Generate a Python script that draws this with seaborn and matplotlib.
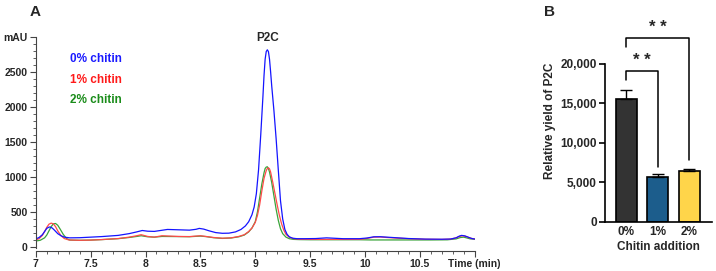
"""
HPLC chromatograms of P2C with chitin addition (A) and relative P2C yield (B)
"""

import numpy as np
import pandas as pd
import matplotlib
matplotlib.use('Agg')
import matplotlib.pyplot as plt
from matplotlib.ticker import MultipleLocator
import seaborn as sns

sns.set_theme(style='white')
plt.rcParams['font.family'] = ['Liberation Sans', 'DejaVu Sans']
plt.rcParams['font.weight'] = 'bold'

# Chromatogram traces (time in min, absorbance in mAU)
time_0 = [7.00, 7.03, 7.06, 7.08, 7.10, 7.12, 7.13, 7.15, 7.17, 7.20, 7.23, 7.26, 7.31,
          7.40, 7.50, 7.60, 7.75, 7.85, 7.92, 7.97, 8.02, 8.08, 8.20, 8.30, 8.40,
          8.46, 8.49, 8.53, 8.58, 8.64, 8.70, 8.76, 8.82, 8.87, 8.91, 8.94, 8.97,
          8.99, 9.01, 9.03, 9.05, 9.07, 9.08, 9.09, 9.10, 9.11, 9.12, 9.13, 9.14,
          9.15, 9.17, 9.19, 9.21, 9.23, 9.25, 9.27, 9.29, 9.31, 9.34, 9.38, 9.45,
          9.55, 9.65, 9.80, 9.95, 10.02, 10.08, 10.14, 10.20, 10.30, 10.40, 10.55,
          10.70, 10.78, 10.83, 10.86, 10.88, 10.91, 10.94, 10.97, 11.00]
mau_0 = [115, 135, 175, 220, 265, 283, 285, 270, 240, 190, 160, 140, 130,
         132, 140, 148, 165, 190, 215, 235, 225, 222, 250, 245, 240,
         252, 265, 255, 230, 205, 195, 197, 215, 250, 300, 360, 460,
         570, 760, 1100, 1600, 2150, 2450, 2680, 2790, 2815, 2790, 2680, 2500,
         2300, 1950, 1550, 1100, 660, 400, 250, 180, 145, 125, 118, 118,
         120, 130, 118, 118, 128, 145, 146, 140, 130, 120, 112,
         110, 113, 130, 155, 165, 158, 140, 122, 113]

time_1 = [7.00, 7.03, 7.06, 7.08, 7.10, 7.12, 7.14, 7.16, 7.18, 7.20, 7.23, 7.26, 7.30,
          7.40, 7.50, 7.60, 7.75, 7.85, 7.92, 7.96, 8.02, 8.08, 8.15, 8.30, 8.40,
          8.50, 8.55, 8.62, 8.70, 8.78, 8.85, 8.90, 8.94, 8.97, 9.00, 9.02, 9.04,
          9.06, 9.08, 9.10, 9.11, 9.12, 9.13, 9.14, 9.16, 9.18, 9.20, 9.22, 9.24,
          9.26, 9.28, 9.31, 9.35, 9.40, 9.50, 9.65, 9.80, 9.95, 10.02, 10.08, 10.14,
          10.20, 10.30, 10.40, 10.55, 10.70, 10.78, 10.83, 10.86, 10.89, 10.92,
          10.95, 10.98, 11.00]
mau_1 = [100, 118, 165, 220, 280, 325, 340, 330, 290, 230, 160, 120, 100,
         95, 98, 105, 120, 140, 160, 175, 150, 140, 160, 150, 148,
         160, 150, 135, 125, 130, 150, 175, 220, 270, 350, 450, 600,
         800, 980, 1090, 1120, 1130, 1115, 1070, 920, 760, 600, 450, 330,
         240, 180, 140, 118, 110, 108, 108, 108, 108, 122, 140, 142,
         135, 125, 118, 110, 108, 112, 130, 150, 160, 150,
         132, 118, 113]

time_2 = [7.00, 7.04, 7.08, 7.10, 7.12, 7.14, 7.16, 7.18, 7.20, 7.22, 7.25, 7.28, 7.31,
          7.40, 7.50, 7.60, 7.75, 7.85, 7.92, 7.96, 8.02, 8.08, 8.15, 8.30, 8.40,
          8.50, 8.55, 8.62, 8.70, 8.78, 8.85, 8.90, 8.94, 8.97, 9.00, 9.02, 9.04,
          9.06, 9.08, 9.09, 9.10, 9.11, 9.12, 9.13, 9.15, 9.17, 9.19, 9.21, 9.23,
          9.25, 9.28, 9.31, 9.35, 9.40, 9.50, 9.65, 9.80, 9.95, 10.05, 10.15,
          10.30, 10.45, 10.60, 10.75, 10.83, 10.87, 10.90, 10.93, 10.96, 11.00]
mau_2 = [85, 95, 130, 170, 230, 290, 330, 335, 310, 260, 180, 120, 98,
         95, 98, 105, 118, 135, 150, 160, 145, 140, 150, 148, 146,
         155, 148, 132, 122, 128, 145, 170, 215, 270, 360, 500, 700,
         900, 1060, 1120, 1140, 1145, 1120, 1070, 920, 730, 540, 380, 260,
         190, 140, 118, 108, 105, 103, 103, 103, 103, 100, 100,
         100, 100, 100, 102, 115, 135, 140, 128, 115, 110]

trace_names = ['0% chitin', '1% chitin', '2% chitin']
trace_colors = ['#1414ff', '#ff4a4a', '#3aa43a']
label_colors = ['#1a1aff', '#ff1a1a', '#1a8c1a']

# Bar chart values (relative P2C yield)
groups = ['0%', '1%', '2%']
yields = [15600, 5700, 6450]
yield_err = [1100, 400, 300]
bar_colors = ['#333333', '#1c5d8c', '#ffd54a']

chrom = pd.concat([
    pd.DataFrame({'time': time_0, 'mAU': mau_0, 'sample': trace_names[0]}),
    pd.DataFrame({'time': time_1, 'mAU': mau_1, 'sample': trace_names[1]}),
    pd.DataFrame({'time': time_2, 'mAU': mau_2, 'sample': trace_names[2]}),
], ignore_index=True)

fig = plt.figure(figsize=(7.16, 2.71), dpi=100)

# ---------- Panel A ----------
axA = fig.add_axes([0.050, 0.074, 0.613, 0.790])
sns.lineplot(data=chrom, x='time', y='mAU', hue='sample', hue_order=trace_names[::-1],
             palette=dict(zip(trace_names, trace_colors)), estimator=None, sort=False,
             linewidth=0.9, legend=False, ax=axA)
axA.set_xlim(7, 11)
axA.set_ylim(-57, 3000)
axA.set_xlabel('')
axA.set_ylabel('')
sns.despine(ax=axA)
for s in ['left', 'bottom']:
    axA.spines[s].set_color('#444444')
    axA.spines[s].set_linewidth(0.8)
axA.spines['left'].set_bounds(-10, 3000)

axA.set_xticks([7, 7.5, 8, 8.5, 9, 9.5, 10, 10.5, 11])
axA.set_xticklabels(['7', '7.5', '8', '8.5', '9', '9.5', '10', '10.5', 'Time (min)'])
axA.xaxis.set_minor_locator(MultipleLocator(0.1))
axA.set_yticks([0, 500, 1000, 1500, 2000, 2500, 3000])
axA.set_yticklabels(['0', '500', '1000', '1500', '2000', '2500', 'mAU'])
axA.yaxis.set_minor_locator(MultipleLocator(100))
axA.tick_params(which='major', length=4, width=0.8, color='#444444',
                labelsize=7.5, pad=2, bottom=True, left=True)
axA.tick_params(which='minor', length=2, width=0.6, color='#444444',
                bottom=True, left=True)
for lab in axA.get_xticklabels() + axA.get_yticklabels():
    lab.set_fontweight('bold')

for i, (name, col) in enumerate(zip(trace_names, label_colors)):
    axA.text(7.31, 2680 - i * 290, name, color=col, fontsize=8.5,
             fontweight='bold', va='center', ha='left')
peak_idx = int(np.argmax(mau_0))
axA.text(time_0[peak_idx], max(mau_0) + 80, 'P2C', fontsize=8.5,
         fontweight='bold', ha='center', va='bottom')

fig.text(0.049, 0.955, 'A', fontsize=11, fontweight='bold', ha='center', va='center')

# ---------- Panel B ----------
axB = fig.add_axes([0.845, 0.181, 0.149, 0.744])
bars = pd.DataFrame({'group': groups, 'yield': yields})
sns.barplot(data=bars, x='group', y='yield', hue='group', palette=bar_colors,
            saturation=1, width=0.67, edgecolor='black', linewidth=1.2,
            legend=False, ax=axB)
axB.errorbar(range(len(groups)), yields, yerr=[[0] * len(groups), yield_err],
             fmt='none', ecolor='black', elinewidth=1.0, capsize=4, capthick=1.0)
axB.set_xlim(-0.67, 2.71)
axB.set_ylim(0, 25500)
axB.set_yticks([0, 5000, 10000, 15000, 20000])
axB.set_yticklabels(['0', '5,000', '10,000', '15,000', '20,000'])
sns.despine(ax=axB)
axB.spines['left'].set_bounds(0, 20000)
for s in ['left', 'bottom']:
    axB.spines[s].set_color('black')
    axB.spines[s].set_linewidth(1.2)
axB.tick_params(axis='y', length=4, width=1.2, color='black', labelsize=8.5, pad=2, left=True)
axB.tick_params(axis='x', length=0, labelsize=8.5, pad=3)
for lab in axB.get_xticklabels() + axB.get_yticklabels():
    lab.set_fontweight('bold')
axB.set_xlabel('Chitin addition', fontsize=8.5, fontweight='bold', labelpad=2)
axB.set_ylabel('Relative yield of P2C', fontsize=8.5, fontweight='bold', labelpad=3)

# significance brackets (0% vs 1%, 0% vs 2%)
brackets = [(0, 1, 18000, 19150, 6900), (0, 2, 22100, 23300, 7800)]
for a, b, left_low, top, right_low in brackets:
    axB.plot([a, a, b, b], [left_low, top, top, right_low], color='black',
             linewidth=1.1, clip_on=False)
    axB.text((a + b) / 2, top + 300, '* *', fontsize=12, fontweight='bold',
             ha='center', va='bottom', clip_on=False)

fig.text(0.767, 0.955, 'B', fontsize=11, fontweight='bold', ha='center', va='center')

plt.savefig('out.png', dpi=100)
